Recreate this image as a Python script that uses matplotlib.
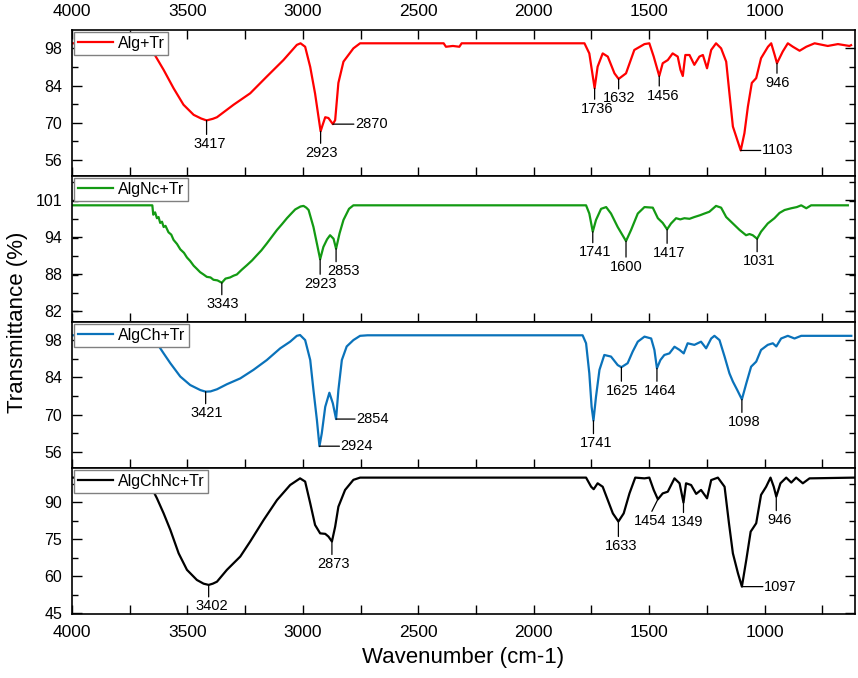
import numpy as np
import matplotlib.pyplot as plt
from matplotlib.ticker import MultipleLocator, FixedLocator

plt.rcParams['font.family'] = ['Liberation Sans', 'DejaVu Sans']

# spectra: wavenumber (cm-1) and transmittance (%)
alg_wn = [4000, 3665, 3654, 3603, 3560, 3517, 3473, 3440, 3417, 3390, 3372, 3300, 3228, 3156,
          3084, 3026, 3010, 2990, 2968, 2947, 2923, 2915, 2903, 2889, 2870, 2860, 2846, 2824,
          2781, 2752, 2390, 2380, 2350, 2322, 2312, 1780, 1759, 1736, 1723, 1701, 1679, 1650,
          1632, 1600, 1564, 1520, 1499, 1480, 1456, 1441, 1419, 1398, 1376, 1364, 1354, 1343,
          1325, 1304, 1282, 1267, 1249, 1231, 1210, 1188, 1166, 1152, 1137, 1123, 1103, 1087,
          1072, 1055, 1036, 1015, 985, 971, 956, 946, 921, 899, 877, 848, 819, 783, 726, 682,
          632, 625]
alg_t = [99.9, 99.9, 97.4, 89.9, 83.0, 76.8, 73.0, 71.6, 70.9, 71.5, 72.1, 76.8, 81.1, 87.4,
         93.6, 99.3, 99.9, 98.6, 91.0, 81.0, 66.8, 69.0, 72.1, 71.8, 69.5, 71.0, 85.0, 93.0,
         98.0, 99.9, 99.9, 98.6, 98.9, 98.6, 99.9, 99.9, 96.1, 83.0, 91.1, 96.1, 94.9, 88.6,
         86.5, 88.6, 97.4, 99.6, 99.9, 94.9, 87.6, 92.4, 93.6, 96.1, 94.9, 89.9, 87.6, 95.5,
         95.5, 91.8, 94.9, 95.5, 90.5, 97.4, 99.9, 98.0, 93.0, 81.1, 68.6, 64.9, 59.6, 66.1,
         76.1, 85.0, 86.8, 94.3, 98.6, 99.9, 95.5, 92.4, 96.8, 99.9, 98.6, 97.1, 98.6, 99.9,
         98.9, 99.6, 98.9, 99.2]

algnc_wn = [4000, 3652, 3648, 3640, 3632, 3625, 3618, 3610, 3603, 3595, 3582, 3570, 3560, 3545,
            3531, 3515, 3502, 3488, 3473, 3460, 3445, 3430, 3416, 3400, 3387, 3370, 3351, 3335,
            3315, 3300, 3286, 3265, 3242, 3220, 3199, 3180, 3156, 3135, 3112, 3090, 3069, 3050,
            3033, 3010, 2997, 2985, 2975, 2954, 2936, 2925, 2911, 2895, 2882, 2867, 2856, 2841,
            2824, 2800, 2781, 1773, 1759, 1744, 1730, 1708, 1686, 1665, 1636, 1600, 1578, 1549,
            1520, 1484, 1462, 1441, 1422, 1405, 1383, 1365, 1347, 1325, 1304, 1280, 1260, 1239,
            1210, 1188, 1166, 1137, 1108, 1080, 1065, 1051, 1032, 1015, 986, 957, 935, 913, 884,
            860, 841, 819, 798, 639]
algnc_t = [100.0, 100.0, 98.4, 98.8, 97.8, 98.0, 97.0, 97.2, 96.3, 96.5, 95.4, 95.0, 94.1, 93.4,
           92.5, 91.9, 91.1, 90.5, 89.7, 89.2, 88.6, 88.2, 87.8, 87.7, 87.3, 87.2, 86.8, 87.5,
           87.7, 88.0, 88.2, 89.0, 89.8, 90.6, 91.5, 92.3, 93.5, 94.6, 95.8, 96.8, 97.8, 98.6,
           99.3, 99.8, 99.9, 99.6, 99.2, 96.3, 92.9, 90.8, 92.9, 94.2, 94.9, 94.3, 92.6, 95.2,
           97.5, 99.4, 100.0, 100.0, 98.6, 95.5, 97.5, 99.4, 99.7, 98.6, 96.3, 93.9, 95.8, 98.6,
           99.7, 99.6, 97.8, 97.0, 95.9, 96.9, 97.8, 97.6, 97.8, 97.7, 98.0, 98.3, 98.6, 98.9,
           99.9, 99.6, 98.0, 96.9, 95.8, 94.9, 95.1, 94.9, 94.3, 95.5, 96.9, 97.8, 98.7, 99.2, 99.5,
           99.7, 100.0, 99.5, 100.0, 100.0]

algch_wn = [4000, 3662, 3650, 3632, 3603, 3574, 3531, 3488, 3444, 3421, 3400, 3372, 3329, 3271,
            3214, 3156, 3098, 3055, 3026, 3012, 2990, 2968, 2954, 2939, 2928, 2918, 2903, 2885,
            2870, 2856, 2846, 2831, 2810, 2781, 2752, 2720, 1788, 1773, 1759, 1749, 1741, 1730,
            1715, 1694, 1665, 1636, 1620, 1593, 1571, 1549, 1520, 1491, 1477, 1466, 1451, 1434,
            1412, 1390, 1368, 1350, 1333, 1304, 1275, 1253, 1231, 1217, 1195, 1173, 1152, 1137,
            1118, 1098, 1079, 1058, 1036, 1015, 986, 964, 949, 928, 899, 870, 841, 783, 624]
algch_t = [99.8, 99.8, 98.0, 96.8, 93.0, 89.3, 84.3, 81.1, 79.2, 78.6, 78.7, 79.5, 81.4, 83.6,
           86.8, 90.5, 94.9, 97.4, 99.6, 99.9, 98.0, 90.5, 79.2, 67.9, 58.1, 62.9, 72.9, 78.2,
           74.2, 68.3, 79.2, 90.5, 95.6, 98.0, 99.6, 99.8, 99.8, 96.8, 85.5, 72.9, 67.7, 76.7,
           86.8, 92.4, 91.8, 88.6, 87.8, 89.3, 93.7, 97.4, 99.3, 98.6, 94.3, 87.4, 90.5, 92.4,
           93.0, 95.5, 94.3, 93.0, 96.8, 96.2, 97.4, 94.9, 98.6, 99.6, 98.0, 91.8, 85.5, 82.4,
           79.2, 75.7, 81.7, 88.0, 89.9, 94.3, 96.2, 96.8, 95.6, 98.6, 99.6, 98.6, 99.6, 99.6, 99.6]

algchnc_wn = [4000, 3668, 3654, 3632, 3603, 3574, 3538, 3502, 3459, 3430, 3408, 3390, 3372, 3329,
              3271, 3228, 3170, 3112, 3055, 3012, 2990, 2968, 2947, 2925, 2903, 2889, 2874, 2860,
              2846, 2817, 2781, 2752, 1773, 1751, 1740, 1723, 1701, 1679, 1657, 1633, 1610, 1585,
              1560, 1520, 1499, 1480, 1462, 1441, 1419, 1390, 1368, 1351, 1340, 1318, 1296, 1275,
              1249, 1231, 1202, 1173, 1154, 1137, 1115, 1098, 1079, 1060, 1050, 1036, 1015, 993,
              974, 960, 949, 931, 906, 884, 863, 834, 805, 610]
algchnc_t = [100.0, 100.0, 95.7, 91.6, 85.5, 78.8, 69.3, 62.6, 58.5, 57.0, 56.5, 57.0, 57.8, 62.6,
             68.0, 74.1, 82.8, 90.9, 97.0, 99.7, 98.4, 89.6, 80.8, 77.4, 77.2, 76.1, 74.1, 80.1,
             88.2, 95.0, 99.1, 100.0, 100.0, 96.3, 95.3, 97.7, 96.3, 90.9, 85.5, 82.2, 85.5, 93.6,
             100.0, 99.7, 100.0, 95.0, 91.2, 93.6, 94.3, 99.7, 97.7, 89.9, 97.7, 97.0, 93.4, 95.0,
             91.6, 99.0, 100.0, 96.3, 81.5, 69.3, 61.2, 55.8, 66.6, 78.1, 79.5, 81.5, 93.0, 96.3,
             100.0, 96.3, 92.3, 97.7, 100.0, 98.0, 100.0, 97.7, 99.7, 100.0]

# peak labels: text, wavenumber of the marked point, kind, dx, dy (pixels)
alg_peaks = [('3417', 3417, 'v', 3, -14), ('2923', 2923, 'v', 1, -12), ('2870', 2870, 'h', 22, 0),
             ('1736', 1736, 'v', 3, -11), ('1632', 1632, 'v', 1, -10), ('1456', 1456, 'v', 4, -10),
             ('1103', 1103, 'h', 21, 0), ('946', 946, 'v', 1, -10)]
algnc_peaks = [('3343', 3351, 'v', 1, -12), ('2923', 2925, 'v', 0, -15), ('2853', 2856, 'v', 7, -13),
               ('1741', 1744, 'v', 2, -11), ('1600', 1600, 'v', 0, -16), ('1417', 1422, 'v', 2, -14),
               ('1031', 1032, 'v', 2, -13)]
algch_peaks = [('3421', 3421, 'v', 1, -12), ('2924', 2928, 'h', 21, 0), ('2854', 2856, 'h', 20, 0),
               ('1741', 1741, 'v', 3, -13), ('1625', 1620, 'v', 1, -14), ('1464', 1466, 'v', 3, -13),
               ('1098', 1098, 'v', 2, -13)]
algchnc_peaks = [('3402', 3408, 'v', 3, -12), ('2873', 2874, 'v', 2, -13), ('1633', 1633, 'v', 3, -15),
                 ('1454', 1462, 'd', -6, -12), ('1349', 1351, 'v', 4, -10), ('1097', 1098, 'h', 22, 0),
                 ('946', 949, 'v', 3, -14)]

panels = [
    dict(wn=alg_wn, t=alg_t, color='#ff0000', label='Alg+Tr', peaks=alg_peaks,
         ylim=(50, 104.9), ticks=[56, 70, 84, 98], ticklabels=['56', '70', '84', '98'], minor=7),
    dict(wn=algnc_wn, t=algnc_t, color='#139a13', label='AlgNc+Tr', peaks=algnc_peaks,
         ylim=(80.1, 105.0), ticks=[82, 88.3, 94.6, 100.9], ticklabels=['82', '88', '94', '101'], minor=3.15),
    dict(wn=algch_wn, t=algch_t, color='#0a72ba', label='AlgCh+Tr', peaks=algch_peaks,
         ylim=(49.9, 104.8), ticks=[56, 70, 84, 98], ticklabels=['56', '70', '84', '98'], minor=7),
    dict(wn=algchnc_wn, t=algchnc_t, color='#000000', label='AlgChNc+Tr', peaks=algchnc_peaks,
         ylim=(44.7, 103.9), ticks=[45, 60, 75, 90], ticklabels=['45', '60', '75', '90'], minor=7.5),
]


def peak_label(ax, wn, t, text, at, kind, dx, dy):
    wn = np.asarray(wn)
    y = t[int(np.argmin(np.abs(wn - at)))]
    line = dict(arrowstyle='-', color='k', lw=0.9, shrinkA=0, shrinkB=0)
    if kind == 'h':
        ax.annotate('', xy=(at, y), xytext=(dx - 1, 0), textcoords='offset pixels', arrowprops=line)
        ax.annotate(text, xy=(at, y), xytext=(dx, 0), textcoords='offset pixels',
                    ha='left', va='center', fontsize=10.5)
    elif kind == 'd':
        ax.annotate('', xy=(at, y), xytext=(dx, dy), textcoords='offset pixels', arrowprops=line)
        ax.annotate(text, xy=(at, y), xytext=(dx - 2, dy - 2.5), textcoords='offset pixels',
                    ha='center', va='top', fontsize=10.5)
    else:
        ax.annotate('', xy=(at, y), xytext=(0, dy), textcoords='offset pixels', arrowprops=line)
        ax.annotate(text, xy=(at, y), xytext=(dx, dy - 2.5), textcoords='offset pixels',
                    ha='center', va='top', fontsize=10.5)


fig = plt.figure(figsize=(8.58, 6.78), dpi=100)
left, right, top, bottom = 72 / 858, 855 / 858, 1 - 30 / 678, 1 - 614 / 678
h = (top - bottom) / 4
axes = []
for i, p in enumerate(panels):
    ax = fig.add_axes([left, top - (i + 1) * h, right - left, h])
    ax.plot(p['wn'], p['t'], color=p['color'], lw=1.6, label=p['label'], zorder=2)
    ax.set_xlim(4000, 608)
    ax.set_ylim(*p['ylim'])
    ax.xaxis.set_major_locator(MultipleLocator(500))
    ax.xaxis.set_minor_locator(MultipleLocator(250))
    ax.yaxis.set_major_locator(FixedLocator(p['ticks']))
    ax.set_yticklabels(p['ticklabels'])
    ax.yaxis.set_minor_locator(MultipleLocator(p['minor']))
    ax.tick_params(axis='y', which='major', direction='in', length=7, width=1, right=True,
                   labelsize=11.5, pad=7)
    ax.tick_params(axis='y', which='minor', direction='in', length=4.5, width=1, right=True)
    ax.tick_params(axis='x', which='both', direction='in', length=6.5, width=1,
                   top=(i == 0), bottom=True, labelsize=12.5, pad=8,
                   labeltop=(i == 0), labelbottom=(i == 3))
    for s in ax.spines.values():
        s.set_linewidth(1.2)
    for pk in p['peaks']:
        peak_label(ax, p['wn'], p['t'], *pk)
    leg = ax.legend(loc='upper left', bbox_to_anchor=(0, 1), borderaxespad=0.1, fancybox=False,
                    edgecolor='#808080', framealpha=1, fontsize=11.5, handlelength=2.2,
                    handletextpad=0.3, borderpad=0.25)
    leg.get_frame().set_linewidth(1)
    leg.set_zorder(5)
    axes.append(ax)

fig.text(18 / 858, 1 - 322 / 678, 'Transmittance (%)', rotation=90, ha='center', va='center', fontsize=16)
fig.text(463 / 858, 1 - 658 / 678, 'Wavenumber (cm-1)', ha='center', va='center', fontsize=16)

fig.savefig('out.png', dpi=100)
